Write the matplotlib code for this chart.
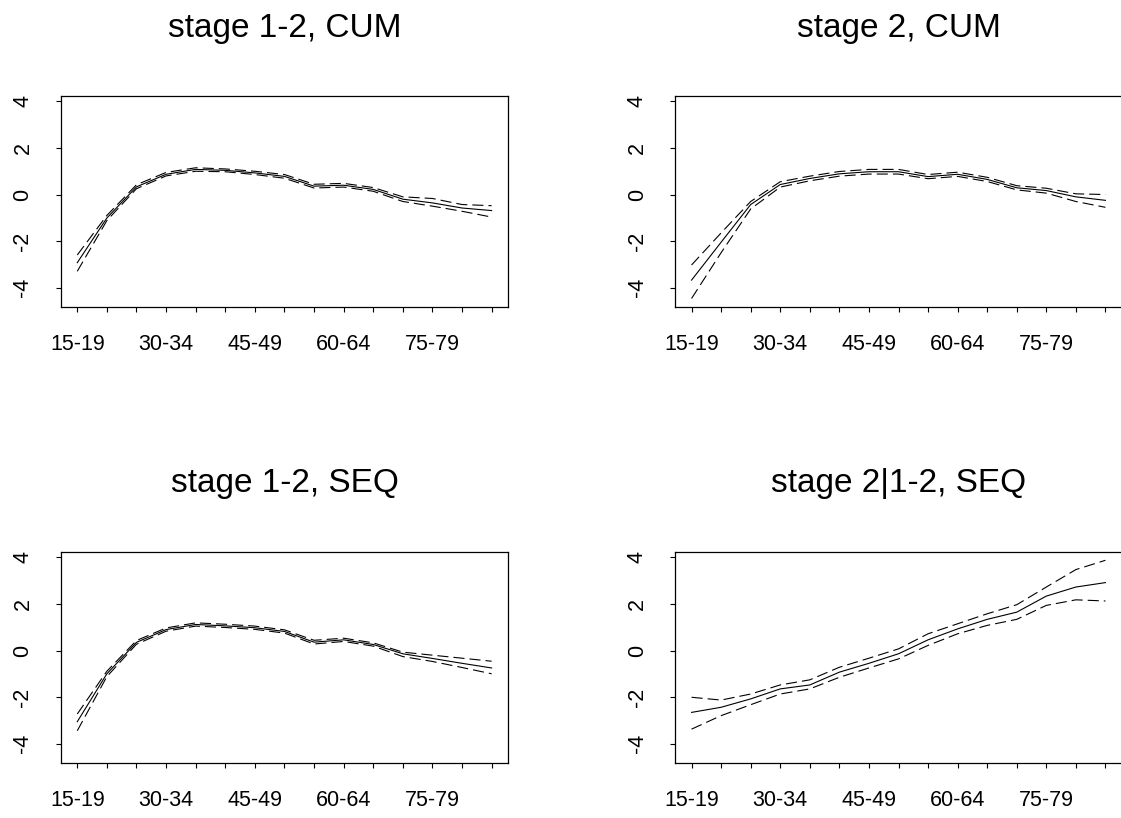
import matplotlib.pyplot as plt

plt.rcParams['font.family'] = ['Liberation Sans', 'DejaVu Sans']

# age groups (x axis) and the labels R kept after dropping overlaps
ages = ['15-19', '20-24', '25-29', '30-34', '35-39', '40-44', '45-49', '50-54',
        '55-59', '60-64', '65-69', '70-74', '75-79', '80-84', '85-89']
tick_labels = ['15-19', '', '', '30-34', '', '', '45-49', '', '',
               '60-64', '', '', '75-79', '', '']

# stage 1-2, CUM
cum12_fit = [-2.93, -1.01, 0.33, 0.87, 1.08, 1.04, 0.93, 0.78, 0.36, 0.4, 0.22, -0.2, -0.36, -0.58, -0.69]
cum12_hi = [-2.6, -0.9, 0.42, 0.95, 1.15, 1.1, 1.0, 0.86, 0.44, 0.48, 0.3, -0.1, -0.17, -0.43, -0.48]
cum12_lo = [-3.3, -1.12, 0.25, 0.8, 1.0, 0.98, 0.86, 0.7, 0.28, 0.32, 0.14, -0.3, -0.5, -0.72, -0.97]

# stage 2, CUM
cum2_fit = [-3.68, -2.05, -0.43, 0.43, 0.69, 0.89, 0.98, 0.98, 0.77, 0.87, 0.65, 0.29, 0.17, -0.1, -0.25]
cum2_hi = [-3.03, -1.65, -0.3, 0.55, 0.79, 0.99, 1.08, 1.08, 0.86, 0.96, 0.74, 0.38, 0.27, 0.03, 0.0]
cum2_lo = [-4.47, -2.5, -0.62, 0.32, 0.59, 0.79, 0.88, 0.88, 0.68, 0.78, 0.56, 0.2, 0.06, -0.3, -0.55]

# stage 1-2, SEQ
seq12_fit = [-3.06, -1.0, 0.35, 0.9, 1.12, 1.06, 0.98, 0.82, 0.36, 0.46, 0.26, -0.14, -0.34, -0.55, -0.75]
seq12_hi = [-2.73, -0.89, 0.43, 0.97, 1.19, 1.13, 1.05, 0.89, 0.44, 0.53, 0.33, -0.07, -0.2, -0.33, -0.46]
seq12_lo = [-3.45, -1.12, 0.27, 0.83, 1.05, 0.99, 0.91, 0.75, 0.28, 0.39, 0.19, -0.26, -0.47, -0.73, -1.0]

# stage 2|1-2, SEQ
seq2_fit = [-2.66, -2.44, -2.08, -1.65, -1.48, -0.93, -0.55, -0.14, 0.46, 0.93, 1.34, 1.65, 2.34, 2.73, 2.92]
seq2_hi = [-2.01, -2.13, -1.87, -1.48, -1.26, -0.72, -0.33, 0.07, 0.72, 1.15, 1.58, 1.97, 2.73, 3.48, 3.88]
seq2_lo = [-3.38, -2.8, -2.33, -1.87, -1.65, -1.15, -0.75, -0.36, 0.22, 0.72, 1.08, 1.34, 1.94, 2.18, 2.13]

titles = ['stage 1-2, CUM', 'stage 2, CUM', 'stage 1-2, SEQ', 'stage 2|1-2, SEQ']
panels = [(cum12_fit, cum12_hi, cum12_lo), (cum2_fit, cum2_hi, cum2_lo),
          (seq12_fit, seq12_hi, seq12_lo), (seq2_fit, seq2_hi, seq2_lo)]

W, H = 1121, 818
fig = plt.figure(figsize=(W / 100, H / 100), dpi=100)

# box positions in pixels: (left, top, width, height)
boxes = [(60.7, 96, 447.5, 211), (675, 96, 447, 211),
         (60.7, 552, 447.5, 211), (675, 552, 447, 211)]
title_y = [37, 37, 492, 492]

x = list(range(len(ages)))
for k, (fit, hi, lo) in enumerate(panels):
    left, top, w, h = boxes[k]
    ax = fig.add_axes([left / W, 1 - (top + h) / H, w / W, h / H])
    ax.plot(x, fit, color='black', lw=0.8)
    ax.plot(x, hi, color='black', lw=0.8, dashes=(10, 4.5))
    ax.plot(x, lo, color='black', lw=0.8, dashes=(10, 4.5))
    ax.set_xlim(-0.56, 14.56)
    ax.set_ylim(-4.836, 4.236)
    ax.set_xticks(x)
    ax.set_xticklabels(tick_labels)
    ax.set_yticks([-4, -2, 0, 2, 4])
    ax.set_yticklabels(['-4', '-2', '0', '2', '4'], rotation=90, va='center')
    ax.tick_params(direction='out', length=3.6, width=0.8, pad=16, labelsize=15.5, color='black')
    for s in ax.spines.values():
        s.set_linewidth(0.9)
    if k % 2 == 1:
        ax.spines['right'].set_visible(False)
    fig.text((left + w / 2) / W, 1 - title_y[k] / H, titles[k], ha='center', va='baseline',
             fontsize=24)

fig.savefig('out.png', dpi=100)
